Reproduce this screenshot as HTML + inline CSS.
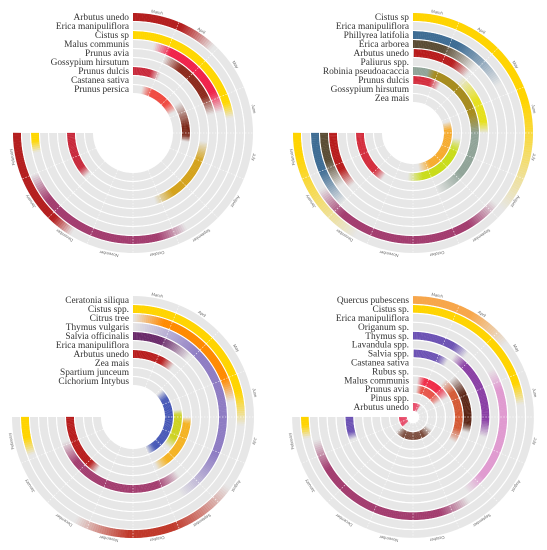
<!DOCTYPE html>
<html><head><meta charset="utf-8">
<style>
html,body{margin:0;padding:0;background:#fff;}
svg{display:block;}
.leg{font-family:"Liberation Serif",serif;font-size:9.4px;fill:#333;}
.mon{font-family:"Liberation Sans",sans-serif;font-size:4.2px;fill:#666;}
</style></head>
<body>
<svg id="chart" width="547" height="550" viewBox="0 0 547 550" xmlns="http://www.w3.org/2000/svg"></svg>
<script>
const months = ["March","April","May","June","July","August","September","October","November","December","January","February"];

// Panel A (top-left)
const aSpecies = ["Arbutus unedo","Erica manipuliflora","Cistus sp","Malus communis","Prunus avia","Gossypium hirsutum","Prunus dulcis","Castanea sativa","Prunus persica"];
const aRing  = [0,1,2,3,4,5,6,7,8];
const aStart = [9.4,6.7,11.5,0.6,1.0,4.3,10.1,2.5,0.5];
const aEnd   = [1.9,11.0,3.6,3.4,3.4,7.2,1.1,4.4,2.8];
const aFadeIn  = [0.5,0.7,0.3,0.5,0.6,0.7,0.4,1.2,0.6];
const aFadeOut = [0.8,0.7,0.4,0.6,0.6,0.7,0.4,0.3,0.6];
const aColor = ["#b41f1f","#a33d6f","#ffd700","#f0224a","#8c2a1c","#d4a21a","#c8283a","#7a2414","#f0443a"];

// Panel B (top-right)
const bSpecies = ["Cistus sp","Erica manipuliflora","Phillyrea latifolia","Erica arborea","Arbutus unedo","Paliurus spp.","Robinia pseudoacaccia","Prunus dulcis","Gossypium hirsutum","Zea mais"];
const bRing  = [0,1,2,3,4,5,6,6,7,8,9];
const bStart = [9.3,5.8,10.0,10.4,10.2,1.8,0,0.6,9.5,4.3,3.2];
const bEnd   = [5.8,10.6,2.7,1.9,1.9,4.0,7.0,4.0,1.3,8.3,7.6];
const bFadeIn  = [2.2,0.8,1.0,0.8,0.6,1.0,0.01,0.3,0.5,0.7,0.6];
const bFadeOut = [2.5,0.8,1.5,1.0,0.6,0.4,1.2,0.8,0.5,0.9,0.9];
const bColor = ["#ffd400","#a33d6f","#3f6d94","#5b4d35","#b81c1c","#e6e01a","#8fa397","#a88c1c","#d42a3a","#c8dc10","#f7a824"];

// Panel C (bottom-left)
const cSpecies = ["Ceratonia siliqua","Cistus  spp.","Citrus tree","Thymus vulgaris","Salvia officinalis","Erica manipuliflora","Arbutus unedo","Zea mais","Spartium junceum","Cichorium Intybus"];
const cRing  = [0,1,2,3,4,5,6,7,8,9];
const cStart = [5.6,11.1,0,0,0,6.3,9.5,4.0,3.6,2.1];
const cEnd   = [9.3,4.2,3.6,6.6,1.9,11.1,1.7,6.9,5.8,7.0];
const cFadeIn  = [1.5,0.4,0.8,2.0,0.01,0.8,0.4,0.3,0.3,0.6];
const cFadeOut = [1.2,0.8,0.6,1.5,1.0,0.8,0.5,0.6,0.6,0.6];
const cColor = ["#c0392b","#ffd400","#ff8a00","#8e7cc3","#6a2a6a","#a33d6f","#b81c1c","#f5b21f","#cdd21a","#3f51b5"];

// Panel D (bottom-right)
const dSpecies = ["Quercus pubescens","Cistus sp.","Erica manipuliflora","Origanum sp.","Thymus sp.","Lavandula spp.","Salvia spp.","Castanea sativa","Rubus sp.","Malus communis","Prunus avia","Pinus spp.","Arbutus unedo"];
const dRing  = [0,1,2,3,4,5,6,7,8,9,10,11,12];
const dStart = [0,11.5,6.5,2.6,0,1.5,11.1,2.0,1.8,0.3,0.3,5.5,10.0];
const dEnd   = [2.3,3.7,11.4,6.4,1.8,4.7,1.4,4.7,5.4,2.7,2.7,10.2,1.5];
const dFadeIn  = [0.01,0.3,0.8,0.6,0.01,0.5,0.3,0.9,0.8,0.5,0.5,1.2,0.3];
const dFadeOut = [1.0,0.5,0.8,0.6,0.5,0.6,0.4,0.4,0.8,0.8,0.8,1.0,0.4];
const dColor = ["#f7a64a","#ffd400","#a33d6f","#e09ad0","#6c52b4","#8a3fa5","#6c52b4","#5a2414","#d4552e","#f0223f","#e8463a","#6b3422","#e8244a"];

const panels = [
  {name:"panel-a",cx:133,cy:133,r0:116,step:9,bw:8,species:aSpecies,ring:aRing,start:aStart,end:aEnd,fi:aFadeIn,fo:aFadeOut,color:aColor},
  {name:"panel-b",cx:413,cy:133,r0:116,step:9,bw:8,species:bSpecies,ring:bRing,start:bStart,end:bEnd,fi:bFadeIn,fo:bFadeOut,color:bColor},
  {name:"panel-c",cx:133,cy:417,r0:117,step:9,bw:8,species:cSpecies,ring:cRing,start:cStart,end:cEnd,fi:cFadeIn,fo:cFadeOut,color:cColor},
  {name:"panel-d",cx:413,cy:417,r0:117,step:8.9,bw:7.8,species:dSpecies,ring:dRing,start:dStart,end:dEnd,fi:dFadeIn,fo:dFadeOut,color:dColor}
];

const NS = "http://www.w3.org/2000/svg";
const svg = document.getElementById("chart");
function mk(tag, attrs, parent){
  const e = document.createElementNS(NS, tag);
  for (const k in attrs) e.setAttribute(k, attrs[k]);
  parent.appendChild(e);
  return e;
}
function angle(m){ return m * 22.5 * Math.PI / 180; }
function pt(cx,cy,r,m){ const a = angle(m); return [cx + r*Math.sin(a), cy - r*Math.cos(a)]; }
function arc(cx,cy,r,m1,m2){
  const p1 = pt(cx,cy,r,m1), p2 = pt(cx,cy,r,m2);
  const large = (m2-m1)*22.5 > 180 ? 1 : 0;
  return "M"+p1[0].toFixed(2)+" "+p1[1].toFixed(2)+" A"+r+" "+r+" 0 "+large+" 1 "+p2[0].toFixed(2)+" "+p2[1].toFixed(2);
}

panels.forEach(P => {
  const g = mk("g", {}, svg);
  
  
  const n = P.species.length;
  const rad = i => P.r0 - P.step*i;
  for (let i=0;i<n;i++){
    const p = mk("path",{d:arc(P.cx,P.cy,rad(i),0,12),fill:"none",stroke:"#e7e7e7","stroke-width":P.bw},g);
    
    
  }
  for (let k=0;k<P.ring.length;k++){
    const s = P.start[k];
    let e = P.end[k];
    if (e < s) e += 12;
    const len = e - s;
    const fi = Math.max(P.fi[k],0.01), fo = Math.max(P.fo[k],0.01);
    const bg = mk("g",{},g);
    
    
    const dt = 0.05;
    const steps = Math.max(1, Math.ceil(len/dt));
    for (let j=0;j<steps;j++){
      const t1 = s + len*j/steps, t2 = s + len*(j+1)/steps;
      const tm = (t1+t2)/2;
      let op = Math.min(1,(tm-s)/fi,(e-tm)/fo);
      if (op <= 0) continue;
      let m1 = t1, m2 = t2;
      if (m1 >= 12){ m1 -= 12; m2 -= 12; }
      else if (m2 > 12){ m2 = 12; }
      if (m2 <= m1) continue;
      const seg = mk("path",{d:arc(P.cx,P.cy,rad(P.ring[k]),m1,m2+0.004),fill:"none",stroke:P.color[k],"stroke-width":P.bw,"stroke-opacity":op.toFixed(3)},bg);
      
      
    }
  }
  const rin = rad(n-1) - P.bw/2, rout = P.r0 + P.bw/2;
  for (let m=1;m<12;m++){
    const a = pt(P.cx,P.cy,rin,m), b = pt(P.cx,P.cy,rout,m);
    const l = mk("line",{x1:a[0],y1:a[1],x2:b[0],y2:b[1],stroke:"#fff","stroke-width":0.7,"stroke-dasharray":"1.5 1.5","stroke-opacity":0.8},g);
    
    
  }
  for (let i=0;i<n-1;i++){
    const r = rad(i) - P.step/2;
    const c = mk("path",{d:arc(P.cx,P.cy,r,0,12),fill:"none",stroke:"#fff","stroke-width":Math.max(0.6,P.step-P.bw)},g);
    
    
  }
  for (let m=0;m<12;m++){
    const deg = (m+0.5)*22.5;
    const t = mk("text",{class:"mon","text-anchor":"middle",transform:"translate("+P.cx+" "+P.cy+") rotate("+deg+") translate(0 "+(-(rout+1.8))+")"},g);
    t.textContent = months[m];
    
    
  }
  for (let i=0;i<n;i++){
    const t = mk("text",{class:"leg","text-anchor":"end",x:P.cx-4,y:P.cy-rad(i)+3.2},g);
    t.textContent = P.species[i];
    
    
  }
});
</script>
</body></html>
